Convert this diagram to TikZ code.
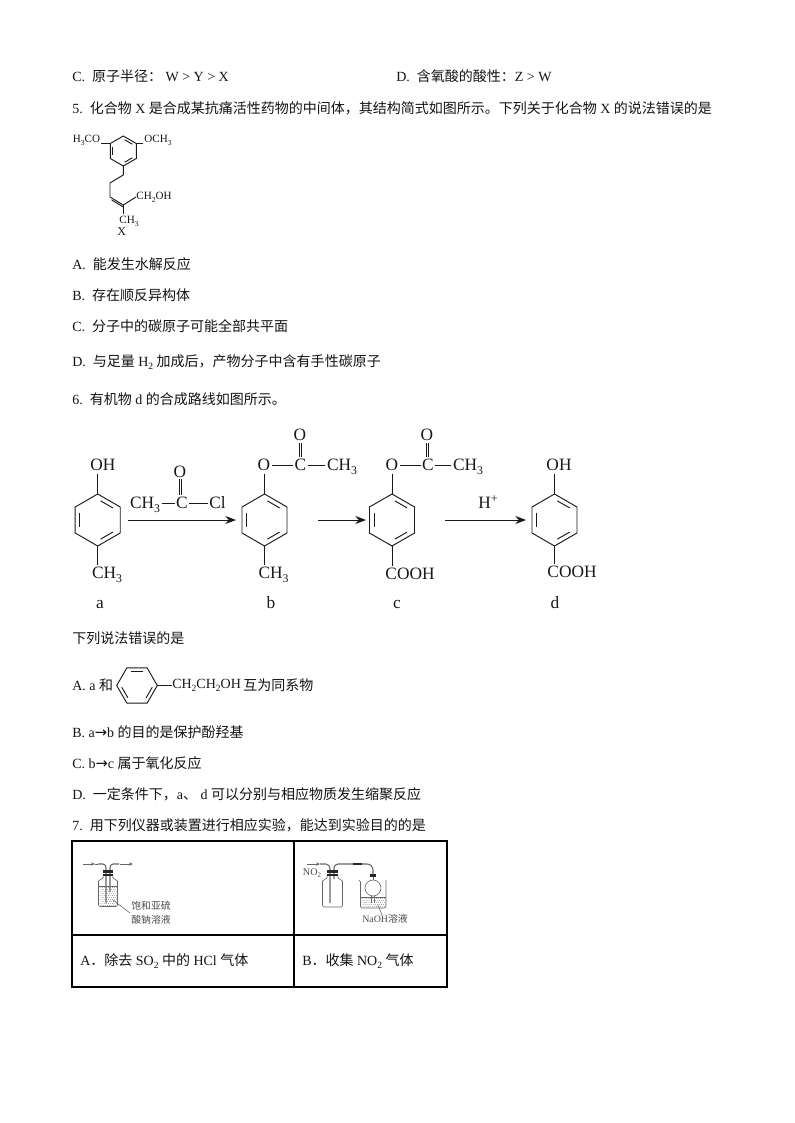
\documentclass[tikz,border=0pt]{standalone}
\usepackage{fontspec}
\setmainfont{Liberation Serif}
\newfontfamily\cjk{Noto Sans CJK SC}
\newfontfamily\dvs{DejaVu Sans}
\usetikzlibrary{calc,arrows.meta}
\newcommand\cn[1]{{\cjk #1}}
\newcommand\lw[1]{\raisebox{-0.5ex}{\scalebox{0.68}{#1}}}
\newcommand\benz[4]{%
  \foreach \k in {1,...,6}{\coordinate (#1-\k) at ({#2+#4*cos(90+60*(\k-1)+\benzrot)},{#3-#4*sin(90+60*(\k-1)+\benzrot)});}
  \coordinate (#1-c) at (#2,#3);
  \draw[bondline] (#1-1)--(#1-2)--(#1-3)--(#1-4)--(#1-5)--(#1-6)--cycle;
  \draw[bondline,shorten >=\benzin,shorten <=\benzin] ($(#1-c)!0.8!(#1-2)$)--($(#1-c)!0.8!(#1-3)$);
  \draw[bondline,shorten >=\benzin,shorten <=\benzin] ($(#1-c)!0.8!(#1-4)$)--($(#1-c)!0.8!(#1-5)$);
  \draw[bondline,shorten >=\benzin,shorten <=\benzin] ($(#1-c)!0.8!(#1-6)$)--($(#1-c)!0.8!(#1-1)$);
}
\def\benzrot{0}
\def\benzin{2pt}
\tikzset{
  x=0.75pt,y=-0.75pt,
  bondline/.style={line width=0.7pt,black!90},
  qtext/.style={anchor=west,inner sep=0pt,font=\fontsize{10.5}{12}\selectfont,text=black!92},
  atom/.style={inner sep=1pt,font=\fontsize{13}{14}\selectfont,text=black!90,text height=8.6pt,text depth=0pt},
  satom/.style={inner sep=0.6pt,font=\fontsize{8.3}{9}\selectfont,text=black!90,text height=5.6pt,text depth=0pt},
  rarrow/.style={line width=0.7pt,black!90,-{Stealth[length=8pt,width=6pt]}},
  rule/.style={line width=0.9pt,black},
  app/.style={line width=0.45pt,black!60},
  applabel/.style={inner sep=0pt,font=\fontsize{7.4}{9}\selectfont,text=black!70},
}
\begin{document}
\begin{tikzpicture}
\fill[white] (0,0) rectangle (794,1123);
\useasboundingbox (0,0) rectangle (794,1123);

% question text
\node[qtext] (t1) at (72,76) {C.\ \ \cn{原子半径：} W > Y > X};
\node[qtext] (t2) at (396,76) {D.\ \ \cn{含氧酸的酸性：}Z > W};
\node[qtext] (t3) at (72,108) {5.\ \ \cn{化合物} X \cn{是合成某抗痛活性药物的中间体，其结构简式如图所示。下列关于化合物} X \cn{的说法错误的是}};
\node[qtext] (t4) at (72,264) {A.\ \ \cn{能发生水解反应}};
\node[qtext] (t5) at (72,295) {B.\ \ \cn{存在顺反异构体}};
\node[qtext] (t6) at (72,326) {C.\ \ \cn{分子中的碳原子可能全部共平面}};
\node[qtext] (t7) at (72,362) {D.\ \ \cn{与足量} H\lw{2} \cn{加成后，产物分子中含有手性碳原子}};
\node[qtext] (t8) at (72,399) {6.\ \ \cn{有机物} d \cn{的合成路线如图所示。}};
\node[qtext] (t9) at (72,638) {\cn{下列说法错误的是}};
\node[qtext] (t10) at (72,685) {A. a \cn{和}};
\node[qtext] (t11) at (72,732) {B. a{\dvs\scalebox{1.05}{→}}b \cn{的目的是保护酚羟基}};
\node[qtext] (t12) at (72,763) {C. b{\dvs\scalebox{1.05}{→}}c \cn{属于氧化反应}};
\node[qtext] (t13) at (72,794) {D.\ \ \cn{一定条件下，}a\cn{、} d \cn{可以分别与相应物质发生缩聚反应}};
\node[qtext] (t14) at (72,825) {7.\ \ \cn{用下列仪器或装置进行相应实验，能达到实验目的的是}};

% molecule X
\def\benzin{1.2pt}
\benz{x}{123.3}{151}{15}
\node[satom] (xa) at (86.5,139) {H\lw{3}CO};
\node[satom] (xb) at (158,139) {OCH\lw{3}};
\node[satom] (xc) at (154,196) {CH\lw{2}OH};
\node[satom] (xd) at (129,220) {CH\lw{3}};
\node[satom,font=\fontsize{9}{10}\selectfont] (xx) at (121.7,232) {X};
\coordinate (x1) at (123.3,175);
\coordinate (x2) at (110,183);
\coordinate (x3) at (110,197);
\coordinate (x4) at (123.3,205);
\draw[bondline] (x-2)--(xa.east|-x-2);
\draw[bondline] (x-6)--(xb.west|-x-6);
\draw[bondline] (x-4)--(x1)--(x2)--(x3)--(x4)--(136,197);
\draw[bondline] (x4)--(123.3,214);
\draw[bondline] (111.5,199.8)--(123.3,207);

% scheme
\def\benzin{2.5pt}
\benz{a}{97.7}{520}{26}
\benz{b}{264.5}{520}{26}
\benz{c}{392}{520}{26}
\benz{d}{554.5}{520}{26}
\node[atom] (aoh) at (103,465) {OH};
\node[atom] (ach) at (107,573) {CH\lw{3}};
\node[atom] (bo) at (264,465) {O};
\node[atom] (bc) at (300.5,465) {C};
\node[atom] (bt) at (300,435) {O};
\node[atom] (bm) at (342,465) {CH\lw{3}};
\node[atom] (bch) at (273.5,573) {CH\lw{3}};
\node[atom] (co) at (392,465) {O};
\node[atom] (cc) at (428,465) {C};
\node[atom] (ct) at (427,435) {O};
\node[atom] (cm) at (468,465) {CH\lw{3}};
\node[atom] (cch) at (410,574) {COOH};
\node[atom] (doh) at (559,465) {OH};
\node[atom] (dch) at (572,572) {COOH};
\node[atom] (r1) at (145,503) {CH\lw{3}};
\node[atom] (r2) at (182,503) {C};
\node[atom] (r3) at (217.5,503) {Cl};
\node[atom] (r4) at (180,472) {O};
\node[atom] (hp) at (488,503) {H\raisebox{0.8ex}{\scalebox{0.7}{+}}};
\node[atom] (la) at (100,603) {a};
\node[atom] (lb) at (271,603) {b};
\node[atom] (lc) at (397,603) {c};
\node[atom] (ld) at (555,603) {d};

\draw[bondline] (a-1)--(97.7,474);
\draw[bondline] (a-4)--(97.7,565);
\draw[bondline] (b-1)--(264.5,474);
\draw[bondline] (b-4)--(264.5,565);
\draw[bondline] (c-1)--(392,474);
\draw[bondline] (c-4)--(392,566);
\draw[bondline] (d-1)--(554.5,474);
\draw[bondline] (d-4)--(554.5,564);
\draw[bondline] (bo)--(bc);
\draw[bondline] (bc)--(bm.west);
\draw[bondline] (co)--(cc);
\draw[bondline] (cc)--(cm.west);
\draw[bondline] (r1.east)--(r2);
\draw[bondline] (r2)--(r3);
\foreach \ox in {299,426}{\draw[bondline] (\ox,443)--(\ox,457);\draw[bondline] ({\ox+2.8},443)--({\ox+2.8},457);}
\draw[bondline] (179,479)--(179,495);
\draw[bondline] (181.8,479)--(181.8,495);

\coordinate (ar1s) at (128,520); \coordinate (ar1e) at (236,520);
\coordinate (ar2s) at (318,520); \coordinate (ar2e) at (366,520);
\coordinate (ar3s) at (445,520); \coordinate (ar3e) at (526,520);
\draw[rarrow] (ar1s)--(ar1e);
\draw[rarrow] (ar2s)--(ar2e);
\draw[rarrow] (ar3s)--(ar3e);

% line A formula
\def\benzrot{30}
\def\benzin{1.5pt}
\benz{e}{137}{685.5}{20.3}
\def\benzrot{0}
\node[anchor=west,inner sep=0pt,font=\fontsize{10.5}{12}\selectfont,text=black!90] (ef) at (172,685.5) {CH\lw{2}CH\lw{2}OH};
\node[qtext] (eg) at (243,685) {\cn{互为同系物}};
\draw[bondline] (e-5)--(e-5-|ef.west);

% table
\coordinate (tl) at (72,841); \coordinate (tr) at (447,841);
\coordinate (bl) at (72,987); \coordinate (br) at (447,987);
\coordinate (ml) at (72,935); \coordinate (mr) at (447,935);
\coordinate (mt) at (294,841); \coordinate (mb) at (294,987);
\draw[rule] (tl) rectangle (br);
\draw[rule] (ml)--(mr);
\draw[rule] (mt)--(mb);
\node[qtext] (ca) at (80,961) {A\cn{．除去} SO\lw{2} \cn{中的} HCl \cn{气体}};
\node[qtext] (cb) at (302,961) {B\cn{．收集} NO\lw{2} \cn{气体}};

% apparatus 1
\draw[app,-{Stealth[length=3pt,width=2.5pt]}] (83,864)--(95,864);
\draw[app] (95,864)--(98,864);
\draw[app,line width=0.8pt] (98,864)--(103,864) to[out=0,in=90] (106,868)--(106,903);
\draw[app,line width=0.8pt] (110,892)--(110,868) to[out=90,in=180] (113,864)--(119,864);
\draw[app,-{Stealth[length=3pt,width=2.5pt]}] (120,864)--(133,864);
\fill[black!85] (103,870) rectangle (113,872.5);
\fill[black!85] (103,873.5) rectangle (113,876);
\draw[app] (103,876)--(103,878) -- (98.5,881) -- (98.5,905) to[out=-90,in=180] (100,906.5) -- (116,906.5) to[out=0,in=-90] (117.5,905) -- (117.5,881) -- (113,878) -- (113,876);
\draw[app] (98.5,886)--(117.5,886);
\foreach \i in {0,...,8}{\foreach \j in {0,...,9}{\fill[black!45] ({100+\i*2.1+mod(\j,2)},{887.5+\j*2}) circle (0.45);}}
\coordinate (ld1) at (113,900);
\node[applabel] (l1) at (151,906) {\cn{饱和亚硫}};
\node[applabel] (l2) at (151,919.5) {\cn{酸钠溶液}};
\draw[app] (ld1)--(130,913);

% apparatus 2
\draw[app,-{Stealth[length=3pt,width=2.5pt]}] (307,864)--(320,864);
\node[applabel,font=\fontsize{7.6}{9}\selectfont] (no) at (312,873) {NO\lw{2}};
\draw[app,line width=0.8pt] (320,864)--(326,864) to[out=0,in=90] (330,869)--(330,903);
\draw[app,line width=0.8pt] (334,879)--(334,868) to[out=90,in=180] (338,864)--(367,864) to[out=0,in=90] (373,870)--(373,874);
\fill[black!85] (353,863.2) rectangle (362,865);
\fill[black!85] (327,870) rectangle (338,872.5);
\fill[black!85] (327,873.5) rectangle (338,876);
\draw[app] (327,876)--(327,878)--(322.5,881)--(322.5,905) to[out=-90,in=180] (324,907)--(341,907) to[out=0,in=-90] (342.5,905)--(342.5,881)--(338,878)--(338,876);
\fill[black!85] (370,874) rectangle (376,877);
\draw[app] (373,877)--(373,880);
\draw[app] (373,888) circle (8);
\draw[app] (371.5,896)--(371.5,903);
\draw[app] (374.5,896)--(374.5,903);
\draw[app] (359,880)--(360.5,882)--(360.5,906) to[out=-90,in=180] (362,908)--(384,908) to[out=0,in=-90] (386,906)--(386,880);
\draw[app] (360.5,897)--(386,897);
\foreach \i in {0,...,11}{\foreach \j in {0,...,4}{\fill[black!45] ({362+\i*2.05+mod(\j,2)},{898.5+\j*2}) circle (0.45);}}
\node[applabel] (l3) at (385,919) {NaOH\cn{溶液}};
\coordinate (ld3) at (378,905);
\draw[app] (ld3)--(382,915);
\end{tikzpicture}
\end{document}
